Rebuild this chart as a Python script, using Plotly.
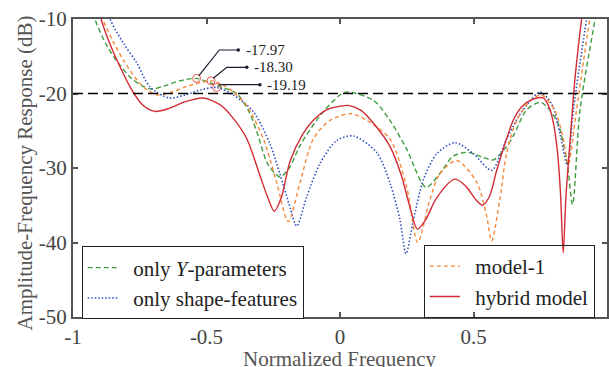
import plotly.graph_objects as go

# ---------------- data ----------------
y_param_x = [-0.95, -0.918, -0.87, -0.824, -0.78, -0.74, -0.705, -0.66, -0.60, -0.537, -0.49, -0.44,
             -0.387, -0.34, -0.31, -0.27, -0.225, -0.19, -0.15, -0.075, 0.0, 0.03, 0.125, 0.187,
             0.25, 0.322, 0.375, 0.424, 0.48, 0.53, 0.575, 0.62, 0.649, 0.699, 0.752, 0.811, 0.849,
             0.871, 0.899, 0.955, 0.98]
y_param_y = [-5.0, -10.0, -13.8, -16.2, -18.0, -19.0, -19.4, -19.0, -18.3, -17.97, -18.5, -19.2,
             -20.0, -22.5, -25.3, -29.5, -31.2, -30.0, -27.0, -23.0, -20.2, -19.8, -20.9, -23.6,
             -27.5, -32.6, -30.7, -28.4, -27.9, -28.5, -28.9, -27.3, -25.7, -22.2, -21.2, -23.6, -28.9,
             -34.9, -22.2, -10.1, -5.0]

shape_x = [-0.89, -0.861, -0.81, -0.761, -0.712, -0.64, -0.58, -0.52, -0.462, -0.40, -0.325, -0.262,
           -0.225, -0.187, -0.162, -0.125, -0.075, -0.012, 0.05, 0.137, 0.187, 0.225, 0.247, 0.275,
           0.312, 0.362, 0.431, 0.50, 0.568, 0.624, 0.674, 0.712, 0.749, 0.793, 0.824, 0.851, 0.874,
           0.924, 0.95]
shape_y = [-5.0, -10.0, -13.3, -15.9, -19.1, -20.6, -20.2, -19.5, -19.19, -20.2, -22.4, -26.8,
           -30.8, -35.3, -37.8, -33.9, -29.4, -26.3, -25.7, -27.9, -32.0, -37.0, -41.5, -37.0,
           -31.6, -28.1, -26.6, -28.1, -30.3, -26.1, -22.8, -21.0, -19.8, -21.4, -25.4, -29.6, -22.2,
           -10.0, -5.0]

model1_x = [-0.93, -0.889, -0.85, -0.81, -0.76, -0.72, -0.68, -0.63, -0.57, -0.483, -0.44, -0.40,
            -0.35, -0.287, -0.237, -0.194, -0.15, -0.10, -0.037, 0.04, 0.10, 0.187, 0.25, 0.291,
            0.337, 0.375, 0.437, 0.512, 0.549, 0.568, 0.599, 0.624, 0.662, 0.712, 0.755, 0.805,
            0.836, 0.855, 0.886, 0.936, 0.96]
model1_y = [-6.0, -10.0, -13.0, -15.6, -18.2, -19.6, -20.2, -19.8, -19.0, -18.30, -18.8, -19.8,
            -21.6, -26.1, -32.0, -37.2, -32.0, -26.1, -23.6, -22.7, -23.6, -26.1, -32.6, -40.0,
            -34.2, -30.7, -29.0, -31.9, -36.4, -39.8, -34.1, -28.0, -23.6, -21.0, -20.2, -22.3,
            -26.1, -29.5, -22.2, -10.0, -6.0]

hybrid_x = [-0.93, -0.895, -0.86, -0.824, -0.78, -0.74, -0.693, -0.64, -0.58, -0.512, -0.45, -0.412,
            -0.35, -0.30, -0.27, -0.246, -0.22, -0.187, -0.14, -0.10, -0.05, 0.0, 0.03, 0.08, 0.13,
            0.187, 0.23, 0.26, 0.29, 0.32, 0.362, 0.43, 0.47, 0.51, 0.534, 0.56, 0.587, 0.62, 0.649,
            0.68, 0.72, 0.761, 0.785, 0.80, 0.815, 0.826, 0.836, 0.846, 0.861, 0.88, 0.905, 0.93]
hybrid_y = [-5.0, -10.0, -13.5, -16.4, -19.5, -21.5, -22.4, -22.0, -21.1, -20.6, -21.5, -22.8,
            -26.0, -31.0, -34.0, -35.8, -34.0, -29.1, -25.5, -23.6, -22.2, -21.7, -21.6, -22.3, -24.2,
            -27.1, -31.0, -35.0, -38.2, -37.0, -34.0, -31.5, -32.4, -34.3, -35.0, -33.8, -30.3, -26.5,
            -23.6, -21.8, -20.8, -20.6, -22.0, -24.1, -28.0, -33.5, -41.4, -34.0, -26.7, -18.0, -10.0, -4.0]

peak_x = [-0.537, -0.483, -0.462]
peak_y = [-17.97, -18.30, -19.19]
peak_labels = ["-17.97", "-18.30", "-19.19"]

threshold = -20

x_ticks = [-1, -0.5, 0, 0.5, 1]
x_tick_text = ["-1", "-0.5", "0", "0.5", "1"]
y_ticks = [-10, -20, -30, -40, -50]
y_tick_text = ["-10", "-20", "-30", "-40", "-50"]

x_title = "Normalized Frequency"
y_title = "Amplitude-Frequency Response (dB)"

# ---------------- styling ----------------
FONT = "Times New Roman, Liberation Serif, DejaVu Serif, serif"
C_GREEN = "#3f9b3f"
C_BLUE = "#2f4fbf"
C_ORANGE = "#f5893a"
C_RED = "#d22b35"
AX = "#555555"
PAD = "&nbsp;&nbsp;"

fig = go.Figure()

fig.add_trace(go.Scatter(x=y_param_x, y=y_param_y, mode="lines", name=PAD + "only <i>Y</i>-parameters",
                         line=dict(color=C_GREEN, width=1.4, dash="5px,3px", shape="spline", smoothing=0.8),
                         legend="legend"))
fig.add_trace(go.Scatter(x=shape_x, y=shape_y, mode="lines", name=PAD + "only shape-features",
                         line=dict(color=C_BLUE, width=1.6, dash="1.5px,2px", shape="spline", smoothing=0.8),
                         legend="legend"))
fig.add_trace(go.Scatter(x=model1_x, y=model1_y, mode="lines", name=PAD + "model-1",
                         line=dict(color=C_ORANGE, width=1.4, dash="4px,3px", shape="spline", smoothing=0.8),
                         legend="legend2"))
fig.add_trace(go.Scatter(x=hybrid_x, y=hybrid_y, mode="lines", name=PAD + "hybrid model",
                         line=dict(color=C_RED, width=1.4, shape="spline", smoothing=0.8),
                         legend="legend2"))

# peak markers
fig.add_trace(go.Scatter(x=peak_x, y=peak_y, mode="markers", showlegend=False,
                         marker=dict(symbol="circle-open", size=8, color="#ee5555", line=dict(width=1))))

# threshold line
fig.add_shape(type="line", xref="paper", x0=0, x1=1, yref="y", y0=threshold, y1=threshold,
              line=dict(color="black", width=1.5, dash="10px,5px"), layer="above")

# leader lines (elbow + horizontal) and labels
elbow_dx = [0.085, 0.059, 0.023]     # layout offsets from peak to elbow
elbow_dy = [3.81, 1.82, 0.37]
tail_len = [0.071, 0.075, 0.139]
for px, py, lab, dx, dy, tl in zip(peak_x, peak_y, peak_labels, elbow_dx, elbow_dy, tail_len):
    ex, ey = px + dx, py + dy
    fig.add_shape(type="path", path=f"M {px + 0.008},{py + 0.35} L {ex},{ey} L {ex + tl},{ey}",
                  line=dict(color="#1a1a2e", width=1.2))
    fig.add_trace(go.Scatter(x=[ex + tl], y=[ey], mode="markers", showlegend=False,
                             marker=dict(size=3.5, color="#1a1a2e")))
    fig.add_annotation(x=ex + tl + 0.02, y=ey, text=lab, showarrow=False, xanchor="left",
                       yanchor="middle", font=dict(family=FONT, size=15, color="#222222"))

# axis titles
fig.add_annotation(text=x_title, xref="paper", yref="paper", x=0.5, y=-0.1426,
                   xanchor="center", yanchor="middle", showarrow=False,
                   font=dict(family=FONT, size=21, color="#555555"))
fig.add_annotation(text=y_title, xref="paper", yref="paper", x=-0.0899, y=0.485, textangle=-90,
                   xanchor="center", yanchor="middle", showarrow=False,
                   font=dict(family=FONT, size=21, color="#555555"))

axis_common = dict(showline=True, linecolor=AX, linewidth=2, mirror="ticks", ticks="inside",
                   ticklen=5, tickwidth=1.5, tickcolor=AX, showgrid=False, zeroline=False,
                   automargin=False,
                   tickfont=dict(family=FONT, size=21, color="#444444"))

fig.update_layout(
    width=609, height=367,
    margin=dict(l=73, r=2, t=19, b=50),
    plot_bgcolor="white", paper_bgcolor="white",
    font=dict(family=FONT, size=21, color="#444444"),
    xaxis=dict(range=[-1, 1], tickvals=x_ticks, ticktext=x_tick_text, **axis_common),
    yaxis=dict(range=[-50, -10], tickvals=y_ticks, ticktext=y_tick_text, **axis_common),
    legend=dict(x=0.0163, y=0.2366, xanchor="left", yanchor="top", bgcolor="white",
                bordercolor="#222222", borderwidth=1, font=dict(family=FONT, size=21, color="#222222"),
                tracegroupgap=0),
    legend2=dict(x=0.657, y=0.2416, xanchor="left", yanchor="top", bgcolor="rgba(255,255,255,0)",
                 bordercolor="#222222", borderwidth=1, font=dict(family=FONT, size=21, color="#222222"),
                 tracegroupgap=0),
)

fig.write_html("out.html", config={"displayModeBar": False},
               post_script="document.body.style.margin='0';document.body.style.overflow='hidden';")
